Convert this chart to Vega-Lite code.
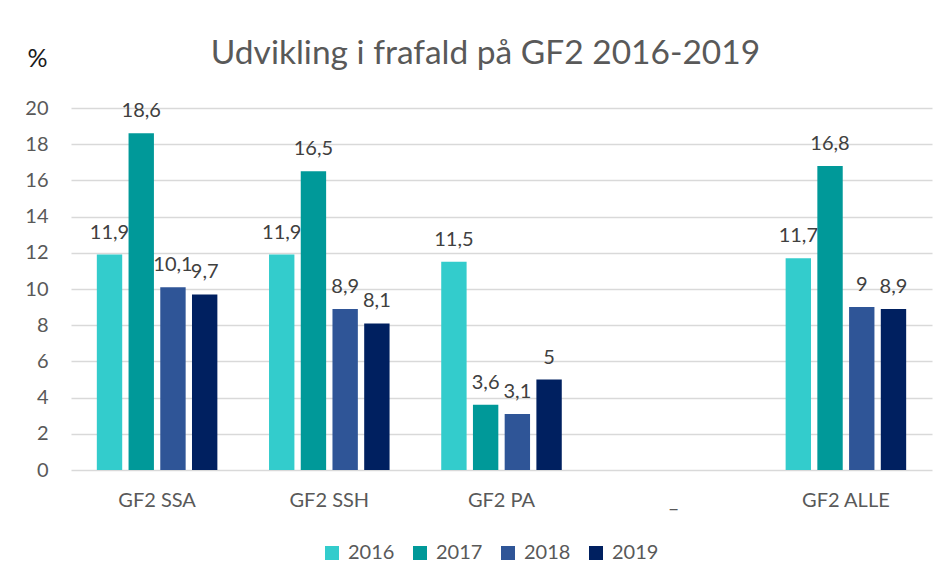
{
  "$schema": "https://vega.github.io/schema/vega-lite/v6.json",
  "width": 861,
  "height": 362,
  "autosize": {"type": "none"},
  "padding": {"left": 71, "top": 108, "right": 17, "bottom": 115},
  "background": "white",
  "title": {
    "text": "Udvikling i frafald på GF2 2016-2019",
    "font": "Lato",
    "fontSize": 33.5,
    "fontWeight": "normal",
    "color": "#595959",
    "anchor": "middle",
    "frame": "group",
    "offset": -25,
    "dx": -16
  },
  "data": {
    "values": [
      {"kategori": "GF2 SSA", "aar": "2016", "procent": 11.9},
      {"kategori": "GF2 SSA", "aar": "2017", "procent": 18.6},
      {"kategori": "GF2 SSA", "aar": "2018", "procent": 10.1},
      {"kategori": "GF2 SSA", "aar": "2019", "procent": 9.7},
      {"kategori": "GF2 SSH", "aar": "2016", "procent": 11.9},
      {"kategori": "GF2 SSH", "aar": "2017", "procent": 16.5},
      {"kategori": "GF2 SSH", "aar": "2018", "procent": 8.9},
      {"kategori": "GF2 SSH", "aar": "2019", "procent": 8.1},
      {"kategori": "GF2 PA", "aar": "2016", "procent": 11.5},
      {"kategori": "GF2 PA", "aar": "2017", "procent": 3.6},
      {"kategori": "GF2 PA", "aar": "2018", "procent": 3.1},
      {"kategori": "GF2 PA", "aar": "2019", "procent": 5},
      {"kategori": "GF2 ALLE", "aar": "2016", "procent": 11.7},
      {"kategori": "GF2 ALLE", "aar": "2017", "procent": 16.8},
      {"kategori": "GF2 ALLE", "aar": "2018", "procent": 9},
      {"kategori": "GF2 ALLE", "aar": "2019", "procent": 8.9}
    ]
  },
  "encoding": {
    "x": {
      "field": "kategori",
      "type": "nominal",
      "sort": null,
      "scale": {"domain": ["GF2 SSA", "GF2 SSH", "GF2 PA", "_", "GF2 ALLE"], "paddingInner": 0.3, "paddingOuter": 0.15},
      "axis": {
        "title": null,
        "labelAngle": 0,
        "labelFont": "Lato",
        "labelFontSize": 20,
        "labelColor": "#595959",
        "labelPadding": 20,
        "ticks": false,
        "domain": false
      }
    },
    "xOffset": {"field": "aar", "type": "nominal", "scale": {"paddingInner": 0.2}},
    "y": {
      "field": "procent",
      "type": "quantitative",
      "scale": {"domain": [0, 20], "nice": false},
      "axis": {
        "title": "%",
        "titleAngle": 0,
        "titleX": -34,
        "titleY": -50,
        "titleAlign": "center",
        "titleBaseline": "middle",
        "titleFont": "Lato",
        "titleFontSize": 25,
        "titleFontWeight": "normal",
        "titleColor": "#1a1a1a",
        "values": [0, 2, 4, 6, 8, 10, 12, 14, 16, 18, 20],
        "labelFont": "Lato",
        "labelFontSize": 20,
        "labelColor": "#595959",
        "labelPadding": 23,
        "ticks": false,
        "domain": false,
        "grid": true,
        "gridColor": "#d9d9d9",
        "gridWidth": 1.5
      }
    }
  },
  "layer": [
    {
      "mark": {"type": "bar"},
      "encoding": {
        "color": {
          "field": "aar",
          "type": "nominal",
          "scale": {"domain": ["2016", "2017", "2018", "2019"], "range": ["#33CCCC", "#009999", "#2F5597", "#002060"]},
          "legend": {
            "title": null,
            "orient": "none",
            "direction": "horizontal",
            "legendX": 251,
            "legendY": 435,
            "symbolType": "square",
            "symbolSize": 196,
            "symbolStrokeWidth": 0,
            "labelFont": "Lato",
            "labelFontSize": 20,
            "labelColor": "#595959",
            "labelOffset": 6,
            "columnPadding": 15
          }
        }
      }
    },
    {
      "mark": {"type": "text", "baseline": "alphabetic", "dy": -16, "font": "Lato", "fontSize": 20, "color": "#404040"},
      "encoding": {
        "text": {"field": "procent", "type": "quantitative", "format": "~r"}
      }
    }
  ],
  "config": {
    "view": {"stroke": null},
    "locale": {"number": {"decimal": ",", "thousands": ".", "grouping": [3], "currency": ["", " kr."]}}
  }
}
